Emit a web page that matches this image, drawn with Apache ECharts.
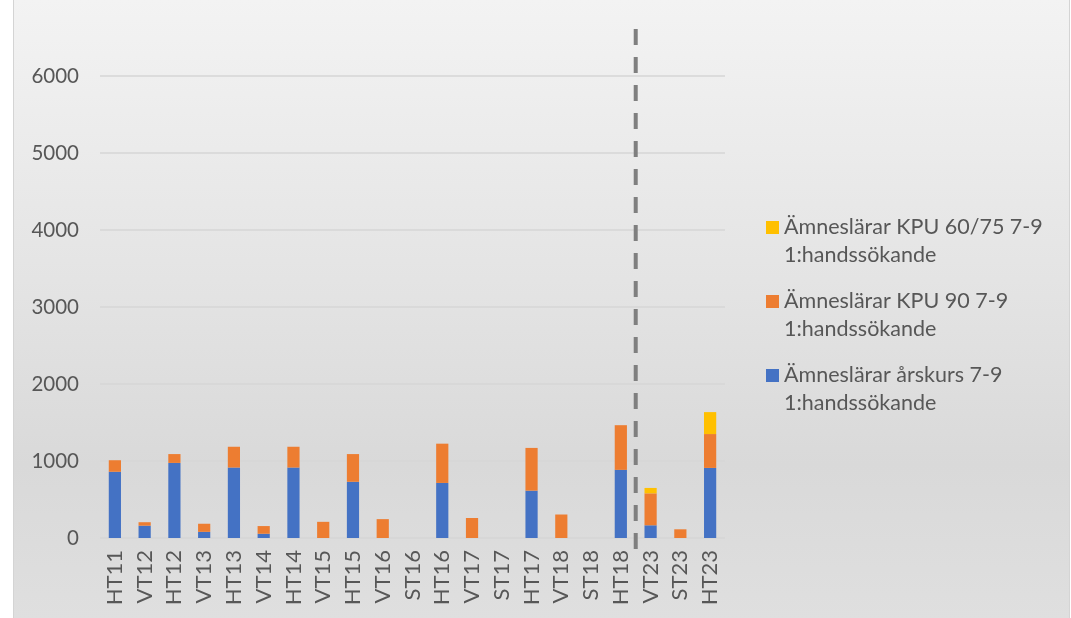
<!DOCTYPE html>
<html>
<head>
<meta charset="utf-8">
<script src="https://cdn.jsdelivr.net/npm/echarts@6/dist/echarts.min.js"></script>
<style>
  html, body { margin: 0; padding: 0; background: #ffffff; }
  #frame {
    position: absolute; left: 13px; top: -1px; width: 1055px; height: 620px;
    border: 1px solid #d4d4d4;
    background: linear-gradient(to bottom, #f3f3f3 0%, #e4e4e4 45%, #d9d9d9 75%, #dfdfdf 100%);
  }
  #main { position: absolute; left: 0; top: 0; width: 1071px; height: 618px; }
</style>
</head>
<body>
<div id="frame"></div>
<div id="main"></div>
<script>
// terminer
let terms = ['HT11', 'VT12', 'HT12', 'VT13', 'HT13', 'VT14', 'HT14', 'VT15', 'HT15', 'VT16', 'ST16',
             'HT16', 'VT17', 'ST17', 'HT17', 'VT18', 'ST18', 'HT18', 'VT23', 'ST23', 'HT23'];

let name_arskurs = 'Ämneslärar årskurs 7-9 1:handssökande';
let name_kpu90 = 'Ämneslärar KPU 90 7-9 1:handssökande';
let name_kpu6075 = 'Ämneslärar KPU 60/75 7-9 1:handssökande';

let arskurs = [860, 160, 975, 80, 915, 55, 915, 0, 730, 0, 0, 715, 0, 0, 615, 0, 0, 885, 165, 0, 910];
let kpu90 = [150, 45, 115, 105, 270, 100, 270, 210, 360, 245, 0, 510, 260, 0, 555, 305, 0, 580, 415, 113, 440];
let kpu6075 = [0, 0, 0, 0, 0, 0, 0, 0, 0, 0, 0, 0, 0, 0, 0, 0, 0, 0, 70, 0, 285];

let yTicks = [0, 1000, 2000, 3000, 4000, 5000, 6000];

let FONT = 'Lato';
let TXT = '#575757';

let chartDom = document.getElementById('main');
let myChart = echarts.init(chartDom);

function barSeries(name, data, color){
    return {
        name: name,
        type: 'bar',
        stack: 'total',
        barWidth: '41%',
        data: data,
        itemStyle: { color: color },
        emphasis: { disabled: true }
    };
}

let option = {
    backgroundColor: 'transparent',
    animation: false,
    grid: { left: 100, right: 346, top: 76, bottom: 80 },
    legend: {
        orient: 'vertical',
        left: 766,
        top: 213,
        padding: 0,
        itemGap: 18,
        itemWidth: 13,
        itemHeight: 40,
        icon: 'path://M0,0H13V13H0Z M0,40H0.01V40.01H0Z',
        data: [name_kpu6075, name_kpu90, name_arskurs],
        formatter: function(n){ return n.replace(' 1:', '\n1:'); },
        textStyle: { fontFamily: FONT, fontSize: 21.5, color: TXT, lineHeight: 28 }
    },
    xAxis: {
        type: 'category',
        data: terms,
        axisLine: { show: false },
        axisTick: { show: false },
        axisLabel: { rotate: 90, margin: 12, fontFamily: FONT, fontSize: 22, color: TXT, interval: 0 }
    },
    yAxis: {
        type: 'value',
        min: yTicks[0],
        max: yTicks[yTicks.length - 1],
        interval: 1000,
        axisLine: { show: false },
        axisTick: { show: false },
        axisLabel: {
            margin: 21, fontFamily: FONT, fontSize: 20.5, color: TXT,
            formatter: function(v){ return String(v); }
        },
        splitLine: { lineStyle: { color: '#d6d6d6', width: 1.5 } }
    },
    series: [
        barSeries(name_arskurs, arskurs, '#4472C4'),
        barSeries(name_kpu90, kpu90, '#ED7D31'),
        barSeries(name_kpu6075, kpu6075, '#FFC000')
    ]
};

myChart.setOption(option);

// streckad linje mellan HT18 och VT23
let xa = myChart.convertToPixel({ xAxisIndex: 0 }, 'HT18');
let xb = myChart.convertToPixel({ xAxisIndex: 0 }, 'VT23');
let xMid = (xa + xb) / 2;
myChart.setOption({
    graphic: [{
        type: 'line',
        z: 100,
        shape: { x1: xMid, y1: 29, x2: xMid, y2: 549 },
        style: { stroke: '#7f7f7f', lineWidth: 4, lineDash: [16, 12] }
    }]
});
</script>
</body>
</html>
